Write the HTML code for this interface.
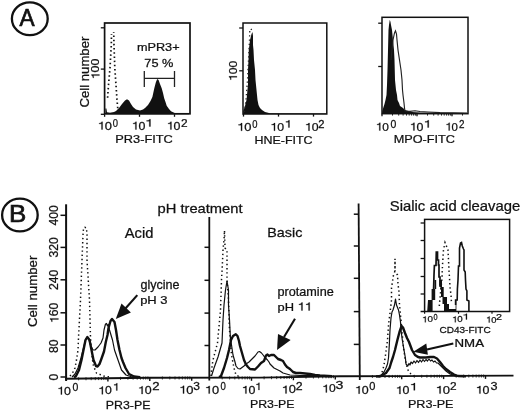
<!DOCTYPE html>
<html><head><meta charset="utf-8"><style>
html,body{margin:0;padding:0;background:#fff;width:520px;height:411px;overflow:hidden;}
svg{display:block;will-change:transform;}
text{font-family:"Liberation Sans",sans-serif;fill:#111;stroke:#111;font-kerning:none;}
</style></head><body>
<svg width="520" height="411" viewBox="0 0 520 411">
<rect width="520" height="411" fill="#fff"/>
<ellipse cx="29.8" cy="18.7" rx="17.9" ry="16.4" fill="none" stroke="#111" stroke-width="2.3"/>
<g transform="translate(19.46,25.50) scale(0.9626,1)"><text font-size="23.5" stroke-width="0.7">A</text></g>
<rect x="104.6" y="23" width="85.4" height="90.8" fill="none" stroke="#111" stroke-width="1.7"/>
<line x1="100.8" y1="27.8" x2="104.75" y2="27.8" stroke="#111" stroke-width="1.3"/>
<line x1="100.8" y1="69.1" x2="104.75" y2="69.1" stroke="#111" stroke-width="1.3"/>
<line x1="100.8" y1="114.3" x2="104.75" y2="114.3" stroke="#111" stroke-width="1.3"/>
<line x1="104.6" y1="114.25" x2="104.6" y2="116.8" stroke="#111" stroke-width="1.3"/>
<line x1="139.5" y1="114.25" x2="139.5" y2="116.8" stroke="#111" stroke-width="1.3"/>
<line x1="174.5" y1="114.25" x2="174.5" y2="116.8" stroke="#111" stroke-width="1.3"/>
<g transform="translate(88.60,107.47) rotate(-90) scale(1.0957,1)"><text font-size="12" stroke-width="0.25">Cell number</text></g>
<g transform="translate(99.40,79.34) rotate(-90) scale(1.0855,1)"><text font-size="11.5" stroke-width="0.25">&#8199;00</text><path d="M790,0 L790,1409 L640,1409 L610,1340 L530,1240 L400,1170 L220,1150 L220,1030 L610,1030 L610,0 Z" transform="translate(0.000,0) scale(0.00562,-0.00562)" fill="#111" stroke="#111" stroke-width="0.25" vector-effect="non-scaling-stroke"/></g>
<g transform="translate(136.96,50.50) scale(1.1331,1)"><text font-size="11.2" stroke-width="0.25">mPR3+</text></g>
<g transform="translate(144.35,66.50) scale(1.1403,1)"><text font-size="11.2" stroke-width="0.25">75 %</text></g>
<path d="M144.3,78.4 L174.5,78.4 M144.3,71 L144.3,87.1 M174.5,71 L174.5,87.1" stroke="#222" stroke-width="1.3" fill="none"/>
<path d="M105.4,114.2 L105.4,108.5 L106.4,108.5 L107,112.3 L110,112.8 L114,112 L116,111 L119,108 L122,104 L125,100.5 L127,99.3 L129,100.5 L131,104 L133,107 L136,109.5 L140,110.5 L143,109.5 L145,108 L148,105 L150.5,101 L152.4,97 L154.3,88.3 L155.8,82.5 L157.2,79 L158.6,80 L160,84 L161.7,88.3 L163,93 L164.2,98.3 L165.5,102 L166.7,105.7 L169,109 L171,111.3 L174.7,113 L180,113.6 L189,113.6 L189,114.2 Z" fill="#111"/>
<path d="M111.5,34.1 L111.3,45 L110,68 L108.5,85 L107.5,99" fill="none" stroke="#111" stroke-width="1.7" stroke-dasharray="1.5 2.7" stroke-dashoffset="0.75"/>
<path d="M113.7,32 L114,45 L114.8,68 L116,85 L117,100 L118,111" fill="none" stroke="#111" stroke-width="1.7" stroke-dasharray="1.5 2.7" stroke-dashoffset="0.75"/>
<g transform="translate(97.61,129.50) scale(1.1556,1)"><text font-size="11.2" stroke-width="0.25">&#8199;0</text><path d="M790,0 L790,1409 L640,1409 L610,1340 L530,1240 L400,1170 L220,1150 L220,1030 L610,1030 L610,0 Z" transform="translate(0.000,0) scale(0.00547,-0.00547)" fill="#111" stroke="#111" stroke-width="0.25" vector-effect="non-scaling-stroke"/></g>
<g transform="translate(112.63,126.50) scale(0.8965,1)"><text font-size="10.5" stroke-width="0.25">0</text></g>
<g transform="translate(131.67,129.50) scale(1.1093,1)"><text font-size="11.2" stroke-width="0.25">&#8199;0</text><path d="M790,0 L790,1409 L640,1409 L610,1340 L530,1240 L400,1170 L220,1150 L220,1030 L610,1030 L610,0 Z" transform="translate(0.000,0) scale(0.00547,-0.00547)" fill="#111" stroke="#111" stroke-width="0.25" vector-effect="non-scaling-stroke"/></g>
<g transform="translate(145.09,126.50) scale(1.3345,1)"><text font-size="10.5" stroke-width="0.25">&#8199;</text><path d="M790,0 L790,1409 L640,1409 L610,1340 L530,1240 L400,1170 L220,1150 L220,1030 L610,1030 L610,0 Z" transform="translate(0.000,0) scale(0.00513,-0.00513)" fill="#111" stroke="#111" stroke-width="0.25" vector-effect="non-scaling-stroke"/></g>
<g transform="translate(166.67,129.50) scale(1.1093,1)"><text font-size="11.2" stroke-width="0.25">&#8199;0</text><path d="M790,0 L790,1409 L640,1409 L610,1340 L530,1240 L400,1170 L220,1150 L220,1030 L610,1030 L610,0 Z" transform="translate(0.000,0) scale(0.00547,-0.00547)" fill="#111" stroke="#111" stroke-width="0.25" vector-effect="non-scaling-stroke"/></g>
<g transform="translate(181.00,126.50) scale(1.1289,1)"><text font-size="10.5" stroke-width="0.25">2</text></g>
<g transform="translate(115.35,143.00) scale(1.1022,1)"><text font-size="11.6" stroke-width="0.25">PR3-FITC</text></g>
<rect x="243" y="23" width="83.8" height="91" fill="none" stroke="#111" stroke-width="1.5"/>
<line x1="239.2" y1="28" x2="243" y2="28" stroke="#111" stroke-width="1.3"/>
<line x1="239.2" y1="70.8" x2="243" y2="70.8" stroke="#111" stroke-width="1.3"/>
<line x1="243.5" y1="114" x2="243.5" y2="116.6" stroke="#111" stroke-width="1.3"/>
<line x1="278.5" y1="114" x2="278.5" y2="116.6" stroke="#111" stroke-width="1.3"/>
<line x1="313.5" y1="114" x2="313.5" y2="116.6" stroke="#111" stroke-width="1.3"/>
<g transform="translate(236.90,81.01) rotate(-90) scale(1.0627,1)"><text font-size="11.5" stroke-width="0.25">&#8199;00</text><path d="M790,0 L790,1409 L640,1409 L610,1340 L530,1240 L400,1170 L220,1150 L220,1030 L610,1030 L610,0 Z" transform="translate(0.000,0) scale(0.00562,-0.00562)" fill="#111" stroke="#111" stroke-width="0.25" vector-effect="non-scaling-stroke"/></g>
<path d="M243.2,114 L243.2,111 L244,109 L245,106 L246.5,100 L247,95 L248,84 L248,70 L248.5,60 L248.8,50 L250,40 L251.5,34 L252.5,32 L253,36 L253,45 L253.5,50 L254,60 L255,70 L255.5,80 L256.5,90 L257,95 L257.5,100 L258.5,105 L260,108 L262,110 L265,112 L270,113.2 L326,113.4 L326,114 Z" fill="#111"/>
<path d="M244.5,112 L246,100 L247.5,80 L248.5,60 L249.5,40 L249.8,30 L251,28.8 L252,31" fill="none" stroke="#222" stroke-width="1.3" stroke-dasharray="1.3 2.9"/>
<g transform="translate(237.11,130.80) scale(1.1556,1)"><text font-size="11.2" stroke-width="0.25">&#8199;0</text><path d="M790,0 L790,1409 L640,1409 L610,1340 L530,1240 L400,1170 L220,1150 L220,1030 L610,1030 L610,0 Z" transform="translate(0.000,0) scale(0.00547,-0.00547)" fill="#111" stroke="#111" stroke-width="0.25" vector-effect="non-scaling-stroke"/></g>
<g transform="translate(252.13,127.80) scale(0.8965,1)"><text font-size="10.5" stroke-width="0.25">0</text></g>
<g transform="translate(270.28,130.70) scale(1.1001,1)"><text font-size="11.2" stroke-width="0.25">&#8199;0</text><path d="M790,0 L790,1409 L640,1409 L610,1340 L530,1240 L400,1170 L220,1150 L220,1030 L610,1030 L610,0 Z" transform="translate(0.000,0) scale(0.00547,-0.00547)" fill="#111" stroke="#111" stroke-width="0.25" vector-effect="non-scaling-stroke"/></g>
<g transform="translate(284.51,127.50) scale(1.2319,1)"><text font-size="10.5" stroke-width="0.25">&#8199;</text><path d="M790,0 L790,1409 L640,1409 L610,1340 L530,1240 L400,1170 L220,1150 L220,1030 L610,1030 L610,0 Z" transform="translate(0.000,0) scale(0.00513,-0.00513)" fill="#111" stroke="#111" stroke-width="0.25" vector-effect="non-scaling-stroke"/></g>
<g transform="translate(304.78,130.70) scale(1.1001,1)"><text font-size="11.2" stroke-width="0.25">&#8199;0</text><path d="M790,0 L790,1409 L640,1409 L610,1340 L530,1240 L400,1170 L220,1150 L220,1030 L610,1030 L610,0 Z" transform="translate(0.000,0) scale(0.00547,-0.00547)" fill="#111" stroke="#111" stroke-width="0.25" vector-effect="non-scaling-stroke"/></g>
<g transform="translate(318.34,127.50) scale(1.0662,1)"><text font-size="10.5" stroke-width="0.25">2</text></g>
<g transform="translate(254.48,143.80) scale(1.0552,1)"><text font-size="11.8" stroke-width="0.25">HNE-FITC</text></g>
<rect x="382" y="17.3" width="86" height="96.4" fill="none" stroke="#111" stroke-width="1.5"/>
<line x1="378.2" y1="23.2" x2="382" y2="23.2" stroke="#111" stroke-width="1.3"/>
<line x1="378.2" y1="66.5" x2="382" y2="66.5" stroke="#111" stroke-width="1.3"/>
<line x1="382" y1="113.7" x2="382" y2="116.3" stroke="#111" stroke-width="1.3"/>
<line x1="392.5" y1="113.7" x2="392.5" y2="115.6" stroke="#111" stroke-width="0.9"/>
<line x1="398.7" y1="113.7" x2="398.7" y2="115.6" stroke="#111" stroke-width="0.9"/>
<line x1="403.1" y1="113.7" x2="403.1" y2="115.6" stroke="#111" stroke-width="0.9"/>
<line x1="406.5" y1="113.7" x2="406.5" y2="115.6" stroke="#111" stroke-width="0.9"/>
<line x1="409.2" y1="113.7" x2="409.2" y2="115.6" stroke="#111" stroke-width="0.9"/>
<line x1="411.6" y1="113.7" x2="411.6" y2="115.6" stroke="#111" stroke-width="0.9"/>
<line x1="413.6" y1="113.7" x2="413.6" y2="115.6" stroke="#111" stroke-width="0.9"/>
<line x1="415.4" y1="113.7" x2="415.4" y2="115.6" stroke="#111" stroke-width="0.9"/>
<line x1="417" y1="113.7" x2="417" y2="116.3" stroke="#111" stroke-width="1.3"/>
<line x1="427.5" y1="113.7" x2="427.5" y2="115.6" stroke="#111" stroke-width="0.9"/>
<line x1="433.7" y1="113.7" x2="433.7" y2="115.6" stroke="#111" stroke-width="0.9"/>
<line x1="438.1" y1="113.7" x2="438.1" y2="115.6" stroke="#111" stroke-width="0.9"/>
<line x1="441.5" y1="113.7" x2="441.5" y2="115.6" stroke="#111" stroke-width="0.9"/>
<line x1="444.2" y1="113.7" x2="444.2" y2="115.6" stroke="#111" stroke-width="0.9"/>
<line x1="446.6" y1="113.7" x2="446.6" y2="115.6" stroke="#111" stroke-width="0.9"/>
<line x1="448.6" y1="113.7" x2="448.6" y2="115.6" stroke="#111" stroke-width="0.9"/>
<line x1="450.4" y1="113.7" x2="450.4" y2="115.6" stroke="#111" stroke-width="0.9"/>
<line x1="452" y1="113.7" x2="452" y2="116.3" stroke="#111" stroke-width="1.3"/>
<line x1="462.5" y1="113.7" x2="462.5" y2="115.6" stroke="#111" stroke-width="0.9"/>
<path d="M382,113.7 L382.3,111 L383.5,107 L384.5,104 L385.5,100 L386.5,95 L387,85 L387.5,70 L388,50 L388.5,30 L389,25 L389.8,19.8 L390.5,22 L391,25 L392,30 L393,40 L394,50 L394.5,60 L395,80 L396,90 L397,95 L397.5,100 L399,103 L400,106 L403,108 L405,110 L412,112 L420,112.5 L467,113 L467,113.7 Z" fill="#111"/>
<path d="M391,60 L393,40 L394.5,33 L395.5,30.8 L396.5,34 L397,40 L398,50 L399.5,60 L401,70 L402,80 L402.5,90 L403,95 L404,103 L404.5,108 L405,111 L410,111.3 L415,110.8 L420,111.5 L428,112 L440,112.6 L467,113" fill="none" stroke="#222" stroke-width="1.15"/>
<g transform="translate(375.72,130.50) scale(1.0631,1)"><text font-size="11.2" stroke-width="0.25">&#8199;0</text><path d="M790,0 L790,1409 L640,1409 L610,1340 L530,1240 L400,1170 L220,1150 L220,1030 L610,1030 L610,0 Z" transform="translate(0.000,0) scale(0.00547,-0.00547)" fill="#111" stroke="#111" stroke-width="0.25" vector-effect="non-scaling-stroke"/></g>
<g transform="translate(390.59,127.50) scale(0.9962,1)"><text font-size="10.5" stroke-width="0.25">0</text></g>
<g transform="translate(409.67,130.50) scale(1.1093,1)"><text font-size="11.2" stroke-width="0.25">&#8199;0</text><path d="M790,0 L790,1409 L640,1409 L610,1340 L530,1240 L400,1170 L220,1150 L220,1030 L610,1030 L610,0 Z" transform="translate(0.000,0) scale(0.00547,-0.00547)" fill="#111" stroke="#111" stroke-width="0.25" vector-effect="non-scaling-stroke"/></g>
<g transform="translate(423.53,127.50) scale(1.3003,1)"><text font-size="10.5" stroke-width="0.25">&#8199;</text><path d="M790,0 L790,1409 L640,1409 L610,1340 L530,1240 L400,1170 L220,1150 L220,1030 L610,1030 L610,0 Z" transform="translate(0.000,0) scale(0.00513,-0.00513)" fill="#111" stroke="#111" stroke-width="0.25" vector-effect="non-scaling-stroke"/></g>
<g transform="translate(445.28,130.50) scale(1.0169,1)"><text font-size="11.2" stroke-width="0.25">&#8199;0</text><path d="M790,0 L790,1409 L640,1409 L610,1340 L530,1240 L400,1170 L220,1150 L220,1030 L610,1030 L610,0 Z" transform="translate(0.000,0) scale(0.00547,-0.00547)" fill="#111" stroke="#111" stroke-width="0.25" vector-effect="non-scaling-stroke"/></g>
<g transform="translate(459.00,127.50) scale(0.9407,1)"><text font-size="10.5" stroke-width="0.25">2</text></g>
<g transform="translate(393.66,143.20) scale(1.0772,1)"><text font-size="11.8" stroke-width="0.25">MPO-FITC</text></g>
<ellipse cx="19.9" cy="215" rx="17.8" ry="16.4" fill="none" stroke="#111" stroke-width="2.3"/>
<g transform="translate(9.07,222.00) scale(1.1273,1)"><text font-size="23" stroke-width="0.7">B</text></g>
<g transform="translate(37.40,327.07) rotate(-90) scale(1.1051,1)"><text font-size="12" stroke-width="0.25">Cell number</text></g>
<g transform="translate(58.40,225.58) rotate(-90) scale(1.0000,1)"><text font-size="12.2" stroke-width="0.25">400</text></g>
<g transform="translate(58.40,257.57) rotate(-90) scale(1.0000,1)"><text font-size="12.2" stroke-width="0.25">320</text></g>
<g transform="translate(58.40,290.05) rotate(-90) scale(1.0000,1)"><text font-size="12.2" stroke-width="0.25">240</text></g>
<g transform="translate(58.40,323.09) rotate(-90) scale(1.0000,1)"><text font-size="12.2" stroke-width="0.25">&#8199;60</text><path d="M790,0 L790,1409 L640,1409 L610,1340 L530,1240 L400,1170 L220,1150 L220,1030 L610,1030 L610,0 Z" transform="translate(0.000,0) scale(0.00596,-0.00596)" fill="#111" stroke="#111" stroke-width="0.25" vector-effect="non-scaling-stroke"/></g>
<g transform="translate(58.40,353.01) rotate(-90) scale(1.0000,1)"><text font-size="12.2" stroke-width="0.25">80</text></g>
<g transform="translate(58.40,380.59) rotate(-90) scale(1.0000,1)"><text font-size="12.2" stroke-width="0.25">0</text></g>
<path d="M66.1,204.3 L66.1,381" stroke="#111" stroke-width="2"/>
<line x1="60.5" y1="215.3" x2="66.1" y2="215.3" stroke="#111" stroke-width="1.5"/>
<line x1="60.5" y1="247.4" x2="66.1" y2="247.4" stroke="#111" stroke-width="1.5"/>
<line x1="60.5" y1="279.8" x2="66.1" y2="279.8" stroke="#111" stroke-width="1.5"/>
<line x1="60.5" y1="312.8" x2="66.1" y2="312.8" stroke="#111" stroke-width="1.5"/>
<line x1="60.5" y1="345" x2="66.1" y2="345" stroke="#111" stroke-width="1.5"/>
<line x1="60.5" y1="377" x2="66.1" y2="377" stroke="#111" stroke-width="1.5"/>
<path d="M209.3,217 L209.3,380.5" stroke="#111" stroke-width="1.8"/>
<line x1="204.5" y1="247.3" x2="209.3" y2="247.3" stroke="#111" stroke-width="1.5"/>
<line x1="204.5" y1="280.3" x2="209.3" y2="280.3" stroke="#111" stroke-width="1.5"/>
<line x1="204.5" y1="313.1" x2="209.3" y2="313.1" stroke="#111" stroke-width="1.5"/>
<line x1="204.5" y1="345.5" x2="209.3" y2="345.5" stroke="#111" stroke-width="1.5"/>
<path d="M358.6,203.5 L359.8,380" stroke="#111" stroke-width="1.8"/>
<line x1="353.8" y1="214.2" x2="359" y2="214.2" stroke="#111" stroke-width="1.5"/>
<line x1="353.8" y1="246" x2="359" y2="246" stroke="#111" stroke-width="1.5"/>
<line x1="353.8" y1="278.3" x2="359" y2="278.3" stroke="#111" stroke-width="1.5"/>
<line x1="353.8" y1="311.6" x2="359" y2="311.6" stroke="#111" stroke-width="1.5"/>
<line x1="353.8" y1="344.4" x2="359" y2="344.4" stroke="#111" stroke-width="1.5"/>
<path d="M65,378.7 L150,377.7 L260,377.6 L340,376.3 L400,376.1 L513.5,375.6" fill="none" stroke="#111" stroke-width="1.9"/>
<line x1="78.6" y1="377.3398452139021" x2="78.6" y2="380.3398452139021" stroke="#111" stroke-width="0.8"/>
<line x1="86.0" y1="377.253042581497" x2="86.0" y2="380.253042581497" stroke="#111" stroke-width="0.8"/>
<line x1="91.2" y1="377.1914551336866" x2="91.2" y2="380.1914551336866" stroke="#111" stroke-width="0.8"/>
<line x1="95.3" y1="377.14368419786257" x2="95.3" y2="380.14368419786257" stroke="#111" stroke-width="0.8"/>
<line x1="98.6" y1="377.10465250128146" x2="98.6" y2="380.10465250128146" stroke="#111" stroke-width="0.8"/>
<line x1="101.4" y1="377.07165167204005" x2="101.4" y2="380.07165167204005" stroke="#111" stroke-width="0.8"/>
<line x1="103.8" y1="377.043065053471" x2="103.8" y2="380.043065053471" stroke="#111" stroke-width="0.8"/>
<line x1="106.0" y1="377.0178498688764" x2="106.0" y2="380.0178498688764" stroke="#111" stroke-width="0.8"/>
<line x1="107.9" y1="378.19529411764705" x2="107.9" y2="381.39529411764704" stroke="#111" stroke-width="1.4"/>
<line x1="120.5" y1="376.8469040374315" x2="120.5" y2="379.8469040374315" stroke="#111" stroke-width="0.8"/>
<line x1="127.9" y1="376.76010140502643" x2="127.9" y2="379.76010140502643" stroke="#111" stroke-width="0.8"/>
<line x1="133.1" y1="376.698513957216" x2="133.1" y2="379.698513957216" stroke="#111" stroke-width="0.8"/>
<line x1="137.2" y1="376.65074302139203" x2="137.2" y2="379.65074302139203" stroke="#111" stroke-width="0.8"/>
<line x1="140.5" y1="376.61171132481087" x2="140.5" y2="379.61171132481087" stroke="#111" stroke-width="0.8"/>
<line x1="143.3" y1="376.57871049556945" x2="143.3" y2="379.57871049556945" stroke="#111" stroke-width="0.8"/>
<line x1="145.7" y1="376.55012387700043" x2="145.7" y2="379.55012387700043" stroke="#111" stroke-width="0.8"/>
<line x1="147.9" y1="376.5249086924058" x2="147.9" y2="379.5249086924058" stroke="#111" stroke-width="0.8"/>
<line x1="149.8" y1="377.70235294117646" x2="149.8" y2="380.90235294117645" stroke="#111" stroke-width="1.4"/>
<line x1="162.4" y1="376.48871531198336" x2="162.4" y2="379.48871531198336" stroke="#111" stroke-width="0.8"/>
<line x1="169.8" y1="376.482007835843" x2="169.8" y2="379.482007835843" stroke="#111" stroke-width="0.8"/>
<line x1="175.0" y1="376.4772488057849" x2="175.0" y2="379.4772488057849" stroke="#111" stroke-width="0.8"/>
<line x1="179.1" y1="376.4735574152894" x2="179.1" y2="379.4735574152894" stroke="#111" stroke-width="0.8"/>
<line x1="182.4" y1="376.4705413296445" x2="182.4" y2="379.4705413296445" stroke="#111" stroke-width="0.8"/>
<line x1="185.2" y1="376.46799126556675" x2="185.2" y2="379.46799126556675" stroke="#111" stroke-width="0.8"/>
<line x1="187.6" y1="376.4657822995864" x2="187.6" y2="379.4657822995864" stroke="#111" stroke-width="0.8"/>
<line x1="189.8" y1="376.46383385350407" x2="189.8" y2="379.46383385350407" stroke="#111" stroke-width="0.8"/>
<line x1="191.7" y1="377.6620909090909" x2="191.7" y2="380.8620909090909" stroke="#111" stroke-width="1.4"/>
<line x1="222.2" y1="376.4343516756197" x2="222.2" y2="379.4343516756197" stroke="#111" stroke-width="0.8"/>
<line x1="229.6" y1="376.42764419947935" x2="229.6" y2="379.42764419947935" stroke="#111" stroke-width="0.8"/>
<line x1="234.8" y1="376.42288516942125" x2="234.8" y2="379.42288516942125" stroke="#111" stroke-width="0.8"/>
<line x1="238.9" y1="376.4191937789258" x2="238.9" y2="379.4191937789258" stroke="#111" stroke-width="0.8"/>
<line x1="242.2" y1="376.4161776932809" x2="242.2" y2="379.4161776932809" stroke="#111" stroke-width="0.8"/>
<line x1="245.0" y1="376.4136276292031" x2="245.0" y2="379.4136276292031" stroke="#111" stroke-width="0.8"/>
<line x1="247.4" y1="376.4114186632228" x2="247.4" y2="379.4114186632228" stroke="#111" stroke-width="0.8"/>
<line x1="249.6" y1="376.4094702171405" x2="249.6" y2="379.4094702171405" stroke="#111" stroke-width="0.8"/>
<line x1="251.5" y1="377.6077272727273" x2="251.5" y2="380.8077272727273" stroke="#111" stroke-width="1.4"/>
<line x1="264.1" y1="376.3331612017023" x2="264.1" y2="379.3331612017023" stroke="#111" stroke-width="0.8"/>
<line x1="271.5" y1="376.2132650656928" x2="271.5" y2="379.2132650656928" stroke="#111" stroke-width="0.8"/>
<line x1="276.7" y1="376.1281974034046" x2="276.7" y2="379.1281974034046" stroke="#111" stroke-width="0.8"/>
<line x1="280.8" y1="376.06221379829776" x2="280.8" y2="379.06221379829776" stroke="#111" stroke-width="0.8"/>
<line x1="284.1" y1="376.00830126739504" x2="284.1" y2="379.00830126739504" stroke="#111" stroke-width="0.8"/>
<line x1="286.9" y1="375.9627188720053" x2="286.9" y2="378.9627188720053" stroke="#111" stroke-width="0.8"/>
<line x1="289.3" y1="375.9232336051069" x2="289.3" y2="378.9232336051069" stroke="#111" stroke-width="0.8"/>
<line x1="291.5" y1="375.8884051313855" x2="291.5" y2="378.8884051313855" stroke="#111" stroke-width="0.8"/>
<line x1="293.4" y1="377.05725" x2="293.4" y2="380.25725" stroke="#111" stroke-width="1.4"/>
<line x1="306.0" y1="375.65228620170234" x2="306.0" y2="378.65228620170234" stroke="#111" stroke-width="0.8"/>
<line x1="313.4" y1="375.53239006569277" x2="313.4" y2="378.53239006569277" stroke="#111" stroke-width="0.8"/>
<line x1="318.6" y1="375.4473224034046" x2="318.6" y2="378.4473224034046" stroke="#111" stroke-width="0.8"/>
<line x1="322.7" y1="375.38133879829775" x2="322.7" y2="378.38133879829775" stroke="#111" stroke-width="0.8"/>
<line x1="326.0" y1="375.3274262673951" x2="326.0" y2="378.3274262673951" stroke="#111" stroke-width="0.8"/>
<line x1="328.8" y1="375.2818438720053" x2="328.8" y2="378.2818438720053" stroke="#111" stroke-width="0.8"/>
<line x1="331.2" y1="375.24235860510686" x2="331.2" y2="378.24235860510686" stroke="#111" stroke-width="0.8"/>
<line x1="333.4" y1="375.2075301313855" x2="333.4" y2="378.2075301313855" stroke="#111" stroke-width="0.8"/>
<line x1="335.3" y1="376.376375" x2="335.3" y2="379.576375" stroke="#111" stroke-width="1.4"/>
<line x1="372.4" y1="374.991956143939" x2="372.4" y2="377.991956143939" stroke="#111" stroke-width="0.8"/>
<line x1="379.8" y1="374.96736206475754" x2="379.8" y2="377.96736206475754" stroke="#111" stroke-width="0.8"/>
<line x1="385.0" y1="374.9499122878779" x2="385.0" y2="377.9499122878779" stroke="#111" stroke-width="0.8"/>
<line x1="389.1" y1="374.9363771893944" x2="389.1" y2="377.9363771893944" stroke="#111" stroke-width="0.8"/>
<line x1="392.4" y1="374.92531820869647" x2="392.4" y2="377.92531820869647" stroke="#111" stroke-width="0.8"/>
<line x1="395.2" y1="374.9159679737447" x2="395.2" y2="377.9159679737447" stroke="#111" stroke-width="0.8"/>
<line x1="397.6" y1="374.90786843181684" x2="397.6" y2="377.90786843181684" stroke="#111" stroke-width="0.8"/>
<line x1="399.8" y1="374.900724129515" x2="399.8" y2="377.900724129515" stroke="#111" stroke-width="0.8"/>
<line x1="401.7" y1="376.09251101321587" x2="401.7" y2="379.29251101321586" stroke="#111" stroke-width="1.4"/>
<line x1="414.3" y1="374.8369464457343" x2="414.3" y2="377.8369464457343" stroke="#111" stroke-width="0.8"/>
<line x1="421.7" y1="374.8044432573888" x2="421.7" y2="377.8044432573888" stroke="#111" stroke-width="0.8"/>
<line x1="426.9" y1="374.7813818782527" x2="426.9" y2="377.7813818782527" stroke="#111" stroke-width="0.8"/>
<line x1="431.0" y1="374.76349408290014" x2="431.0" y2="377.76349408290014" stroke="#111" stroke-width="0.8"/>
<line x1="434.3" y1="374.7488786899072" x2="434.3" y2="377.7488786899072" stroke="#111" stroke-width="0.8"/>
<line x1="437.1" y1="374.7365215512045" x2="437.1" y2="377.7365215512045" stroke="#111" stroke-width="0.8"/>
<line x1="439.5" y1="374.7258173107711" x2="439.5" y2="377.7258173107711" stroke="#111" stroke-width="0.8"/>
<line x1="441.7" y1="374.7163755015617" x2="441.7" y2="377.7163755015617" stroke="#111" stroke-width="0.8"/>
<line x1="443.6" y1="375.9079295154185" x2="443.6" y2="379.1079295154185" stroke="#111" stroke-width="1.4"/>
<line x1="456.2" y1="374.652364947937" x2="456.2" y2="377.652364947937" stroke="#111" stroke-width="0.8"/>
<line x1="463.6" y1="374.6198617595914" x2="463.6" y2="377.6198617595914" stroke="#111" stroke-width="0.8"/>
<line x1="468.8" y1="374.59680038045536" x2="468.8" y2="377.59680038045536" stroke="#111" stroke-width="0.8"/>
<line x1="472.9" y1="374.5789125851028" x2="472.9" y2="377.5789125851028" stroke="#111" stroke-width="0.8"/>
<line x1="476.2" y1="374.56429719210985" x2="476.2" y2="377.56429719210985" stroke="#111" stroke-width="0.8"/>
<line x1="479.0" y1="374.5519400534071" x2="479.0" y2="377.5519400534071" stroke="#111" stroke-width="0.8"/>
<line x1="481.4" y1="374.54123581297375" x2="481.4" y2="377.54123581297375" stroke="#111" stroke-width="0.8"/>
<line x1="483.6" y1="374.53179400376433" x2="483.6" y2="377.53179400376433" stroke="#111" stroke-width="0.8"/>
<line x1="485.5" y1="375.72334801762116" x2="485.5" y2="378.92334801762115" stroke="#111" stroke-width="1.4"/>
<g transform="translate(57.17,394.50) scale(1.1093,1)"><text font-size="11.2" stroke-width="0.25">&#8199;0</text><path d="M790,0 L790,1409 L640,1409 L610,1340 L530,1240 L400,1170 L220,1150 L220,1030 L610,1030 L610,0 Z" transform="translate(0.000,0) scale(0.00547,-0.00547)" fill="#111" stroke="#111" stroke-width="0.25" vector-effect="non-scaling-stroke"/></g>
<g transform="translate(72.59,390.50) scale(0.9962,1)"><text font-size="10.5" stroke-width="0.25">0</text></g>
<g transform="translate(98.19,394.30) scale(1.0909,1)"><text font-size="11.2" stroke-width="0.25">&#8199;0</text><path d="M790,0 L790,1409 L640,1409 L610,1340 L530,1240 L400,1170 L220,1150 L220,1030 L610,1030 L610,0 Z" transform="translate(0.000,0) scale(0.00547,-0.00547)" fill="#111" stroke="#111" stroke-width="0.25" vector-effect="non-scaling-stroke"/></g>
<g transform="translate(112.73,390.50) scale(1.1292,1)"><text font-size="10.5" stroke-width="0.25">&#8199;</text><path d="M790,0 L790,1409 L640,1409 L610,1340 L530,1240 L400,1170 L220,1150 L220,1030 L610,1030 L610,0 Z" transform="translate(0.000,0) scale(0.00513,-0.00513)" fill="#111" stroke="#111" stroke-width="0.25" vector-effect="non-scaling-stroke"/></g>
<g transform="translate(137.87,394.00) scale(1.1093,1)"><text font-size="11.2" stroke-width="0.25">&#8199;0</text><path d="M790,0 L790,1409 L640,1409 L610,1340 L530,1240 L400,1170 L220,1150 L220,1030 L610,1030 L610,0 Z" transform="translate(0.000,0) scale(0.00547,-0.00547)" fill="#111" stroke="#111" stroke-width="0.25" vector-effect="non-scaling-stroke"/></g>
<g transform="translate(152.14,390.30) scale(1.2543,1)"><text font-size="10.5" stroke-width="0.25">2</text></g>
<g transform="translate(179.11,393.50) scale(1.1556,1)"><text font-size="11.2" stroke-width="0.25">&#8199;0</text><path d="M790,0 L790,1409 L640,1409 L610,1340 L530,1240 L400,1170 L220,1150 L220,1030 L610,1030 L610,0 Z" transform="translate(0.000,0) scale(0.00547,-0.00547)" fill="#111" stroke="#111" stroke-width="0.25" vector-effect="non-scaling-stroke"/></g>
<g transform="translate(193.14,389.80) scale(1.1450,1)"><text font-size="10.5" stroke-width="0.25">3</text></g>
<g transform="translate(204.82,393.60) scale(1.1463,1)"><text font-size="11.2" stroke-width="0.25">&#8199;0</text><path d="M790,0 L790,1409 L640,1409 L610,1340 L530,1240 L400,1170 L220,1150 L220,1030 L610,1030 L610,0 Z" transform="translate(0.000,0) scale(0.00547,-0.00547)" fill="#111" stroke="#111" stroke-width="0.25" vector-effect="non-scaling-stroke"/></g>
<g transform="translate(220.62,390.00) scale(0.9165,1)"><text font-size="10.5" stroke-width="0.25">0</text></g>
<g transform="translate(241.67,393.60) scale(1.1093,1)"><text font-size="11.2" stroke-width="0.25">&#8199;0</text><path d="M790,0 L790,1409 L640,1409 L610,1340 L530,1240 L400,1170 L220,1150 L220,1030 L610,1030 L610,0 Z" transform="translate(0.000,0) scale(0.00547,-0.00547)" fill="#111" stroke="#111" stroke-width="0.25" vector-effect="non-scaling-stroke"/></g>
<g transform="translate(255.24,390.00) scale(1.0266,1)"><text font-size="10.5" stroke-width="0.25">&#8199;</text><path d="M790,0 L790,1409 L640,1409 L610,1340 L530,1240 L400,1170 L220,1150 L220,1030 L610,1030 L610,0 Z" transform="translate(0.000,0) scale(0.00513,-0.00513)" fill="#111" stroke="#111" stroke-width="0.25" vector-effect="non-scaling-stroke"/></g>
<g transform="translate(281.62,393.40) scale(1.1463,1)"><text font-size="11.2" stroke-width="0.25">&#8199;0</text><path d="M790,0 L790,1409 L640,1409 L610,1340 L530,1240 L400,1170 L220,1150 L220,1030 L610,1030 L610,0 Z" transform="translate(0.000,0) scale(0.00547,-0.00547)" fill="#111" stroke="#111" stroke-width="0.25" vector-effect="non-scaling-stroke"/></g>
<g transform="translate(295.78,389.80) scale(1.1707,1)"><text font-size="10.5" stroke-width="0.25">2</text></g>
<g transform="translate(322.20,392.40) scale(1.0816,1)"><text font-size="11.2" stroke-width="0.25">&#8199;0</text><path d="M790,0 L790,1409 L640,1409 L610,1340 L530,1240 L400,1170 L220,1150 L220,1030 L610,1030 L610,0 Z" transform="translate(0.000,0) scale(0.00547,-0.00547)" fill="#111" stroke="#111" stroke-width="0.25" vector-effect="non-scaling-stroke"/></g>
<g transform="translate(335.46,388.80) scale(1.3458,1)"><text font-size="10.5" stroke-width="0.25">3</text></g>
<g transform="translate(354.87,393.70) scale(1.1093,1)"><text font-size="11.2" stroke-width="0.25">&#8199;0</text><path d="M790,0 L790,1409 L640,1409 L610,1340 L530,1240 L400,1170 L220,1150 L220,1030 L610,1030 L610,0 Z" transform="translate(0.000,0) scale(0.00547,-0.00547)" fill="#111" stroke="#111" stroke-width="0.25" vector-effect="non-scaling-stroke"/></g>
<g transform="translate(369.27,390.00) scale(1.0559,1)"><text font-size="10.5" stroke-width="0.25">0</text></g>
<g transform="translate(395.67,394.00) scale(1.1093,1)"><text font-size="11.2" stroke-width="0.25">&#8199;0</text><path d="M790,0 L790,1409 L640,1409 L610,1340 L530,1240 L400,1170 L220,1150 L220,1030 L610,1030 L610,0 Z" transform="translate(0.000,0) scale(0.00547,-0.00547)" fill="#111" stroke="#111" stroke-width="0.25" vector-effect="non-scaling-stroke"/></g>
<g transform="translate(409.46,390.30) scale(1.3688,1)"><text font-size="10.5" stroke-width="0.25">&#8199;</text><path d="M790,0 L790,1409 L640,1409 L610,1340 L530,1240 L400,1170 L220,1150 L220,1030 L610,1030 L610,0 Z" transform="translate(0.000,0) scale(0.00513,-0.00513)" fill="#111" stroke="#111" stroke-width="0.25" vector-effect="non-scaling-stroke"/></g>
<g transform="translate(435.60,393.60) scale(1.1648,1)"><text font-size="11.2" stroke-width="0.25">&#8199;0</text><path d="M790,0 L790,1409 L640,1409 L610,1340 L530,1240 L400,1170 L220,1150 L220,1030 L610,1030 L610,0 Z" transform="translate(0.000,0) scale(0.00547,-0.00547)" fill="#111" stroke="#111" stroke-width="0.25" vector-effect="non-scaling-stroke"/></g>
<g transform="translate(450.00,389.90) scale(1.1289,1)"><text font-size="10.5" stroke-width="0.25">2</text></g>
<g transform="translate(475.67,393.60) scale(1.1093,1)"><text font-size="11.2" stroke-width="0.25">&#8199;0</text><path d="M790,0 L790,1409 L640,1409 L610,1340 L530,1240 L400,1170 L220,1150 L220,1030 L610,1030 L610,0 Z" transform="translate(0.000,0) scale(0.00547,-0.00547)" fill="#111" stroke="#111" stroke-width="0.25" vector-effect="non-scaling-stroke"/></g>
<g transform="translate(490.52,389.90) scale(1.2052,1)"><text font-size="10.5" stroke-width="0.25">3</text></g>
<g transform="translate(105.78,408.50) scale(1.0498,1)"><text font-size="11.8" stroke-width="0.25">PR3-PE</text></g>
<g transform="translate(249.99,408.00) scale(1.0450,1)"><text font-size="11.8" stroke-width="0.25">PR3-PE</text></g>
<g transform="translate(407.96,408.00) scale(1.0693,1)"><text font-size="11.8" stroke-width="0.25">PR3-PE</text></g>
<g transform="translate(157.55,212.50) scale(1.0820,1)"><text font-size="13.6" stroke-width="0.25">pH treatment</text></g>
<g transform="translate(124.77,237.80) scale(1.0530,1)"><text font-size="14" stroke-width="0.25">Acid</text></g>
<g transform="translate(267.32,236.80) scale(1.0860,1)"><text font-size="13.2" stroke-width="0.25">Basic</text></g>
<g transform="translate(389.83,211.20) scale(1.0608,1)"><text font-size="14" stroke-width="0.25">Sialic acid cleavage</text></g>
<g transform="translate(140.47,289.00) scale(1.0464,1)"><text font-size="12" stroke-width="0.25">glycine</text></g>
<g transform="translate(140.16,303.50) scale(1.1585,1)"><text font-size="11.2" stroke-width="0.25">pH 3</text></g>
<g transform="translate(277.48,295.70) scale(1.0547,1)"><text font-size="12" stroke-width="0.25">protamine</text></g>
<g transform="translate(277.47,310.50) scale(1.1123,1)"><text font-size="11.6" stroke-width="0.25">pH &#8199;&#8199;</text><path d="M790,0 L790,1409 L640,1409 L610,1340 L530,1240 L400,1170 L220,1150 L220,1030 L610,1030 L610,0 Z" transform="translate(18.051,0) scale(0.00566,-0.00566)" fill="#111" stroke="#111" stroke-width="0.25" vector-effect="non-scaling-stroke"/><path d="M790,0 L790,1409 L640,1409 L610,1340 L530,1240 L400,1170 L220,1150 L220,1030 L610,1030 L610,0 Z" transform="translate(24.503,0) scale(0.00566,-0.00566)" fill="#111" stroke="#111" stroke-width="0.25" vector-effect="non-scaling-stroke"/></g>
<g transform="translate(454.51,347.00) scale(1.1651,1)"><text font-size="11.4" stroke-width="0.25">NMA</text></g>
<path d="M70,376 L72.5,373 L75,368 L76.5,360 L78,350 L78.5,338 L80.5,300 L82,260 L83,235 L83.5,228 L84.8,227.3 L86.5,228 L87,235 L87,260 L89.5,300 L90.5,338 L91.5,350 L92.5,360 L93.5,366 L96.5,373 L103.5,376 L110,377" fill="none" stroke="#111" stroke-width="1.5" stroke-dasharray="1.4 2.8"/>
<path d="M72,377 L75,374 L78,368 L81,358 L83.5,348 L85.5,340 L87,337.5 L88.5,338 L90.5,345 L93,350 L95,350 L98,347 L101,343 L103,338 L104,330 L105.5,324 L106.5,323.5 L107.5,326 L108.3,324.5 L109.5,330 L112.5,340 L114.5,350 L118,360 L121.5,370 L126,375 L132,377" fill="none" stroke="#111" stroke-width="1.2" stroke-linejoin="round"/>
<path d="M74,377.5 L76,376 L79,370 L81.5,360 L83.5,350 L85.5,340 L87.3,337 L89.5,340 L91.5,350 L93.5,360 L96,366 L97.5,366.5 L99.5,364 L101,360 L104,351.5 L105.8,342 L107.5,335 L108.5,328 L110.5,321 L112,319 L114.5,322 L116,330 L117.5,340 L119.5,350 L121.5,358 L123,362 L125.5,368 L129,374 L134,376.5 L140,377.3" fill="none" stroke="#111" stroke-width="2.4" stroke-linejoin="round"/>
<path d="M211,376 L211.5,370 L213,360 L217.5,343 L220.5,310 L221.5,280 L222.5,262 L223,250 L224,240 L224.5,230.5 L225,248 L227,250 L227,262 L227,280 L228.5,300 L229.5,330 L231.5,355 L234,368 L236,375 L240,377" fill="none" stroke="#111" stroke-width="1.5" stroke-dasharray="1.4 2.8"/>
<path d="M211.5,376 L214,368 L218,357 L222,343 L223,320 L224,305 L225.5,290 L226.5,284 L227,281 L227.5,284 L228.5,290 L228.5,305 L229.5,320 L230,330 L230.5,340 L231.5,345 L233,355 L235,362 L236,366 L238,368.5 L240,369 L244,366 L246,364 L249,362 L252,359 L255,356 L258,352 L259.5,351.5 L261.5,353 L263.5,355.5 L264.5,357 L266,358.5 L267.5,360 L269,362 L270,364 L272,366 L274,368 L276,369 L280,371 L283,373 L290,375 L300,375.5 L310,375.7 L330,376" fill="none" stroke="#111" stroke-width="1.2" stroke-linejoin="round"/>
<path d="M219,377 L221,376 L224,368 L227,358 L229,350 L230,345 L231,340 L233,336 L235.8,334.2 L237.5,336 L239,341 L240,346 L242,353 L244,360 L246,364.5 L248,367 L250,369 L255,369.5 L258,366.5 L261,363 L264,361 L266,355.5 L267.5,354.5 L269,356 L271,355 L274,355 L276,357 L278,359 L281,360 L283,361 L285,364.5 L287,367 L290,369 L293,372 L296,373 L300,373 L305,373.5 L310,374 L315,375 L320,375.5 L332,376.3" fill="none" stroke="#111" stroke-width="2.4" stroke-linejoin="round"/>
<path d="M380,376 L382.5,371 L384,365 L385.5,355 L387.5,340 L388.5,325 L390,313 L391.5,300 L391.5,288 L393.5,275 L395,271 L395,258.8 L395,271 L397.5,275 L398,284 L398.5,288 L399,292 L399.5,305 L401,320 L402.3,335 L403.5,348 L405,358 L406.5,365 L408,370 L410.5,373.5 L414,376" fill="none" stroke="#111" stroke-width="1.5" stroke-dasharray="1.4 2.8"/>
<path d="M378,377 L381,375.5 L384,372 L386,368 L387.5,364 L388.5,358 L389.3,345 L390,330 L391,318 L392,312 L393,310 L394.5,305 L395.5,299 L396.5,305 L398.5,310 L399.5,315 L400.5,322 L401,330 L402.3,340 L404,350 L405.4,358 L406,364 L407.8,366 L409,363.5 L410,365 L411,362 L412.5,363.5 L414,361 L415.5,363 L417,360.5 L418.5,362.5 L420,360 L421.5,362 L423,359.5 L424.5,361.5 L426,359.5 L427.5,361 L429,359 L430.5,361 L432,360 L433.5,362 L435,361 L436.5,363 L438,363 L440,365 L443,368 L446,371 L450,374 L455,376 L460,376" fill="none" stroke="#111" stroke-width="1.2" stroke-linejoin="round"/>
<path d="M376,376.5 L381,376 L386,373 L389.5,368 L391.3,362 L393,357 L395,350 L397.4,340 L399.5,332 L401.6,326 L403,327.5 L405,333 L407,338 L409,342 L412,350 L415,355 L418,357 L420,357.5 L426,357.5 L430,357 L434,357 L437,358.5 L440,362 L443,366 L446,369 L450,372 L454,374.5 L458,376 L466,376.3" fill="none" stroke="#111" stroke-width="2.4" stroke-linejoin="round"/>
<path d="M137.3,295.1 L125,309" stroke="#111" stroke-width="2.1"/>
<path d="M115.79,318.94 L121.51,303.6 L130.91,312.46 Z" fill="#111"/>
<path d="M295,318.8 L284,337" stroke="#111" stroke-width="2.1"/>
<path d="M277.04,349.94 L278.01,333.96 L290.65,339.9 Z" fill="#111"/>
<path d="M453.3,343.5 L427,349.5" stroke="#111" stroke-width="2.1"/>
<path d="M413.32,351.83 L426.28,343.51 L427.9,354.85 Z" fill="#111"/>
<rect x="424.6" y="219.4" width="85" height="92.1" fill="#fff" stroke="#111" stroke-width="1.5"/>
<line x1="420.6" y1="223" x2="424.6" y2="223" stroke="#111" stroke-width="1.3"/>
<line x1="420.6" y1="240.5" x2="424.6" y2="240.5" stroke="#111" stroke-width="1.3"/>
<line x1="420.6" y1="258.5" x2="424.6" y2="258.5" stroke="#111" stroke-width="1.3"/>
<line x1="420.6" y1="276.5" x2="424.6" y2="276.5" stroke="#111" stroke-width="1.3"/>
<line x1="420.6" y1="294" x2="424.6" y2="294" stroke="#111" stroke-width="1.3"/>
<line x1="420.6" y1="311.5" x2="424.6" y2="311.5" stroke="#111" stroke-width="1.5"/>
<line x1="424.6" y1="311.5" x2="424.6" y2="313.8" stroke="#111" stroke-width="1.2"/>
<line x1="458.5" y1="311.5" x2="458.5" y2="313.8" stroke="#111" stroke-width="1.2"/>
<line x1="492" y1="311.5" x2="492" y2="313.8" stroke="#111" stroke-width="1.2"/>
<path d="M439.3,306 L440,298 L442,278 L442.5,265 L443.5,250 L445,242.5 L448,250 L448.5,260 L449,270 L449.5,278 L450,287 L451,295 L451.5,303" fill="none" stroke="#111" stroke-width="1.5" stroke-dasharray="1.4 2.8"/>
<path d="M433.6,289 L434,275 L434.4,265.5 L436,265.5 L436.3,252 L437.5,252 L437.5,260 L438.5,260 L438.5,265 L439,265 L439,277 L440,277 L440,285 L441,285 L441.5,290" fill="none" stroke="#111" stroke-width="1.7" stroke-linejoin="miter"/>
<path d="M427.2,311.6 L428,300 L431.6,300 L431.6,289 L434.5,289 L434.5,280 L436.2,280 L436.2,289 L435.2,289 L435.2,300 L432.6,300 L432.6,311.6 Z" fill="#111"/>
<path d="M439.3,280 L442,280 L442,287 L443.7,287 L443.7,297 L447,297 L447,304 L449,304 L449,309 L455.6,309 L455.6,300 L456.4,300 L456.4,311.6 L444,311.6 L444,304 L442.5,304 L442.5,297 L441,297 L441,287 L439.3,287 Z" fill="#111"/>
<path d="M455.6,305 L455.6,300 L457.2,300 L457.4,289 L458,280 L458.5,266 L459.5,266 L459.5,248 L460.5,243 L461.5,242.5 L462.3,246 L463.5,249 L464,250 L464,270 L465.2,272 L465.5,280 L466,289 L466.9,291 L466.9,300 L468.9,301 L468.9,311" fill="none" stroke="#111" stroke-width="1.6" stroke-linejoin="miter"/>
<g transform="translate(421.94,322.30) scale(1.1437,1)"><text font-size="8.6" stroke-width="0.25">&#8199;0</text><path d="M790,0 L790,1409 L640,1409 L610,1340 L530,1240 L400,1170 L220,1150 L220,1030 L610,1030 L610,0 Z" transform="translate(0.000,0) scale(0.00420,-0.00420)" fill="#111" stroke="#111" stroke-width="0.25" vector-effect="non-scaling-stroke"/></g>
<g transform="translate(433.51,319.50) scale(0.8716,1)"><text font-size="8.4" stroke-width="0.25">0</text></g>
<g transform="translate(451.95,322.30) scale(1.1317,1)"><text font-size="8.6" stroke-width="0.25">&#8199;0</text><path d="M790,0 L790,1409 L640,1409 L610,1340 L530,1240 L400,1170 L220,1150 L220,1030 L610,1030 L610,0 Z" transform="translate(0.000,0) scale(0.00420,-0.00420)" fill="#111" stroke="#111" stroke-width="0.25" vector-effect="non-scaling-stroke"/></g>
<g transform="translate(462.29,319.50) scale(1.4543,1)"><text font-size="8.4" stroke-width="0.25">&#8199;</text><path d="M790,0 L790,1409 L640,1409 L610,1340 L530,1240 L400,1170 L220,1150 L220,1030 L610,1030 L610,0 Z" transform="translate(0.000,0) scale(0.00410,-0.00410)" fill="#111" stroke="#111" stroke-width="0.25" vector-effect="non-scaling-stroke"/></g>
<g transform="translate(486.00,322.50) scale(1.0835,1)"><text font-size="8.6" stroke-width="0.25">&#8199;0</text><path d="M790,0 L790,1409 L640,1409 L610,1340 L530,1240 L400,1170 L220,1150 L220,1030 L610,1030 L610,0 Z" transform="translate(0.000,0) scale(0.00420,-0.00420)" fill="#111" stroke="#111" stroke-width="0.25" vector-effect="non-scaling-stroke"/></g>
<g transform="translate(496.06,319.50) scale(1.2805,1)"><text font-size="8.4" stroke-width="0.25">2</text></g>
<g transform="translate(439.49,333.00) scale(1.0240,1)"><text font-size="9.8" stroke-width="0.25">CD43-FITC</text></g>
</svg>
</body></html>
